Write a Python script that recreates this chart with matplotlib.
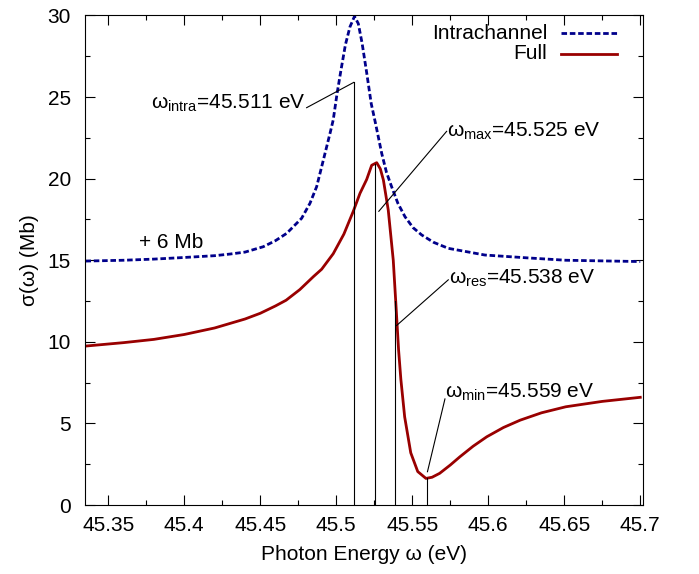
import matplotlib
matplotlib.use("Agg")
import matplotlib.pyplot as plt
from matplotlib.ticker import MultipleLocator

plt.rcParams['font.family'] = ['Liberation Sans', 'DejaVu Sans']
plt.rcParams['font.size'] = 15
plt.rcParams['mathtext.fontset'] = 'custom'
plt.rcParams['mathtext.rm'] = 'Liberation Sans'
plt.rcParams['mathtext.it'] = 'Liberation Sans'

# intrachannel curve (shifted by +6 Mb)
intra_x = [45.335, 45.36, 45.38, 45.40, 45.42, 45.4301, 45.44, 45.452, 45.46,
           45.4674, 45.4772, 45.4827, 45.4871, 45.4915, 45.4959, 45.498,
           45.5005, 45.503, 45.506, 45.509, 45.512, 45.5145, 45.517, 45.520,
           45.523, 45.5258, 45.5299, 45.533, 45.5364, 45.5405, 45.5452,
           45.5505, 45.5562, 45.564, 45.5737, 45.5978, 45.625, 45.651, 45.7]
intra_y = [14.95, 15.0, 15.07, 15.17, 15.28, 15.38, 15.5, 15.83, 16.2,
           16.65, 17.57, 18.49, 19.51, 21.14, 22.78, 23.6,
           25.2, 26.6, 28.2, 29.3, 29.95, 29.5, 28.3, 26.5,
           24.6, 23.4, 21.55, 20.4, 19.51, 18.5, 17.67,
           17.0, 16.55, 16.1, 15.73, 15.32, 15.15, 15.0, 14.92]

# full curve
full_x = [45.335, 45.36, 45.38, 45.40, 45.42, 45.44, 45.45, 45.46, 45.467,
          45.476, 45.485, 45.4904, 45.498, 45.505, 45.5112, 45.5156, 45.520,
          45.5233, 45.5266, 45.529, 45.531, 45.5342, 45.5375, 45.5393, 45.541,
          45.5425, 45.545, 45.549, 45.5536, 45.559, 45.563, 45.568, 45.575,
          45.5814, 45.59, 45.599, 45.61, 45.621, 45.635, 45.651, 45.675, 45.7]
full_y = [9.74, 9.95, 10.15, 10.45, 10.85, 11.4, 11.75, 12.2, 12.55,
          13.2, 14.0, 14.45, 15.4, 16.6, 18.0, 19.1, 19.95,
          20.82, 20.98, 20.6, 19.92, 18.08, 15.0, 12.2, 9.5,
          7.7, 5.4, 3.2, 2.05, 1.63, 1.7, 1.94, 2.45,
          2.96, 3.6, 4.18, 4.75, 5.2, 5.65, 6.02, 6.35, 6.6]

# marker lines: position, height
mark_x = [45.5115, 45.5255, 45.5385, 45.5595]
mark_top = [25.9, 20.9, 12.5, 1.63]

fig = plt.figure(figsize=(6.99, 5.74), dpi=100)
ax = fig.add_axes([0.1216, 0.1202, 0.7983, 0.8528])

ax.plot(intra_x, intra_y, color='#00008b', lw=2.0, ls=(0, (2.0, 1.0)))
ax.plot(full_x, full_y, color='#990000', lw=2.0)

for mx, mt in zip(mark_x, mark_top):
    ax.plot([mx, mx], [0, mt], color='black', lw=0.8)

# leaders
ax.plot([45.4805, 45.5115], [24.35, 25.9], color='black', lw=0.8)
ax.plot([45.528, 45.5726], [18.0, 22.9], color='black', lw=0.8)
ax.plot([45.5397, 45.5737], [11.0, 13.8], color='black', lw=0.8)
ax.plot([45.560, 45.5715], [2.04, 6.5], color='black', lw=0.8)

ax.text(45.4795, 24.6, r'$\omega_{\rm intra}$=45.511 eV', ha='right', va='center')
ax.text(45.573, 22.9, r'$\omega_{\rm max}$=45.525 eV', ha='left', va='center')
ax.text(45.574, 13.9, r'$\omega_{\rm res}$=45.538 eV', ha='left', va='center')
ax.text(45.5715, 6.9, r'$\omega_{\rm min}$=45.559 eV', ha='left', va='center')
ax.text(45.3705, 16.1, '+ 6 Mb', ha='left', va='center')

# legend, gnuplot style: text then line sample
ax.text(0.828, 0.964, 'Intrachannel', ha='right', va='center', transform=ax.transAxes)
ax.text(0.828, 0.922, 'Full', ha='right', va='center', transform=ax.transAxes)
ax.plot([0.853, 0.953], [0.964, 0.964], color='#00008b', lw=2.0,
        ls=(0, (2.0, 1.0)), transform=ax.transAxes)
ax.plot([0.853, 0.953], [0.922, 0.922], color='#990000', lw=2.0,
        transform=ax.transAxes)

ax.set_xlim(45.3347, 45.7018)
ax.set_ylim(0, 30)
ax.xaxis.set_minor_locator(MultipleLocator(0.025))
ax.yaxis.set_major_locator(MultipleLocator(5))
ax.yaxis.set_minor_locator(MultipleLocator(2.5))
ax.set_xticks([45.35, 45.4, 45.45, 45.5, 45.55, 45.6, 45.65, 45.7])
ax.set_xticklabels(['45.35', '45.4', '45.45', '45.5', '45.55', '45.6', '45.65', '45.7'])
ax.tick_params(which='both', direction='in', top=True, right=True)
ax.tick_params(which='major', length=7, width=0.8)
ax.tick_params(which='minor', length=3.5, width=0.8)
ax.tick_params(axis='x', which='major', pad=8)
ax.tick_params(axis='y', which='major', pad=10)

ax.set_xlabel('Photon Energy ω (eV)', labelpad=7)
ax.set_ylabel('σ(ω) (Mb)', labelpad=6)

fig.savefig('out.png', dpi=100)
